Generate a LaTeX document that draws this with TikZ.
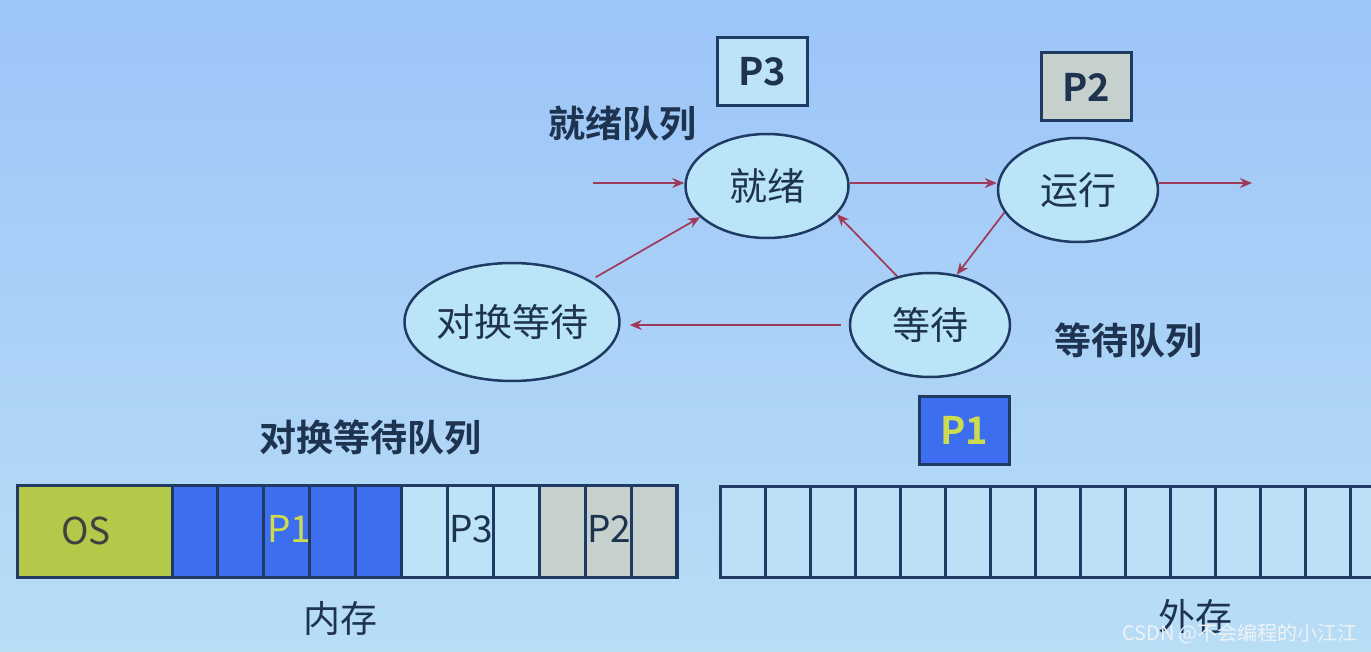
\documentclass[tikz,border=0pt]{standalone}
\usepackage{fontspec}
\setmainfont{Noto Sans CJK SC}[BoldFont={Noto Sans CJK SC Bold}]
\usepackage{xcolor}
\definecolor{cBgTop}{HTML}{9CC5F8}
\definecolor{cBgBot}{HTML}{B8DEF6}
\definecolor{cLine}{HTML}{1F3A63}
\definecolor{cText}{HTML}{1E3350}
\definecolor{cState}{HTML}{BAE4F8}
\definecolor{cArrow}{HTML}{A03A5A}
\definecolor{cOS}{HTML}{B4C84A}
\definecolor{cP1}{HTML}{3D6EF0}
\definecolor{cP1Text}{HTML}{CDDB50}
\definecolor{cP3}{HTML}{BDE3F9}
\definecolor{cP2}{HTML}{C6D0CD}
\definecolor{cDisk}{HTML}{BCDFF8}
\definecolor{cMark}{HTML}{EEF2F5}
\usepackage{tikz}
\usetikzlibrary{positioning,arrows.meta,shapes.geometric}
\tikzset{
  node-state/.style={ellipse,draw=cLine,line width=2.5pt,fill=cState,
    text=cText,inner sep=0pt,font=\fontsize{38}{40}\selectfont},
  node-tag/.style={draw=cLine,line width=3pt,minimum width=90pt,
    minimum height=68pt,text=cText,font=\fontsize{38}{40}\selectfont\bfseries},
  node-label/.style={text=cText,font=\fontsize{37}{40}\selectfont\bfseries},
  node-cell/.style={text=cText,font=\fontsize{37}{40}\selectfont},
  arrow/.style={-{Stealth[length=12pt,width=10pt]},line width=1.7pt,draw=cArrow},
  cell/.style={draw=cLine,line width=3pt},
}

\begin{document}
\begin{tikzpicture}[x=1pt,y=-1pt]
  \useasboundingbox (0,0) rectangle (1371,652);
  \clip (0,0) rectangle (1371,652);
  \shade[top color=cBgTop,bottom color=cBgBot] (0,0) rectangle (1371,652);

  % states
  \node[node-state,minimum width=163pt,minimum height=104pt] (ready) at (767,186) {就绪};
  \node[node-state,minimum width=160pt,minimum height=104pt] (run)   at (1078,190) {运行};
  \node[node-state,minimum width=160pt,minimum height=104pt] (wait)  at (930,325) {等待};
  \node[node-state,minimum width=202pt,minimum height=118pt] (swap)  at (512,322) {对换等待};

  \node[node-tag,fill=cP3] (tagP3) at (762,72) {P3};
  \node[node-tag,fill=cP2] (tagP2) at (1086,87) {P2};
  \node[node-tag,fill=cP1,text=cP1Text] (tagP1) at (964,430) {P1};

  \node[node-label] (readyq) at (622,124) {就绪队列};
  \node[node-label] (waitq)  at (1128,340) {等待队列};
  \node[node-label] (swapq)  at (370,437) {对换等待队列};

  \coordinate (in)  at (593,183);
  \coordinate (out) at (1252,183);
  \draw[arrow] (in) -- (in -| ready.west);
  \draw[arrow] (ready.east |- in) -- (in -| run.west);
  \draw[arrow] (out -| run.east) -- (out);
  \draw[arrow] (run.197) -- (wait.62);
  \draw[arrow] (wait.124) -- (ready.338);
  \draw[arrow,shorten <=8pt,shorten >=9pt] (wait.west) -- (wait.west -| swap.east);
  \draw[arrow,shorten <=6pt] (swap.28) -- (ready.205);

  % memory
  \fill[cOS] (17,485) rectangle (172,577);
  \foreach \i/\col in {0/cP1,1/cP1,2/cP1,3/cP1,4/cP1,5/cP3,6/cP3,7/cP3,8/cP2,9/cP2,10/cP2}
    \draw[cell,fill=\col] ({172+\i*45.9},485) rectangle ++(45.9,92);
  \draw[cell] (17,485) rectangle (677,577);
  \node[node-cell,text=black!75] (memOS) at (86,531) {OS};
  \node[node-cell,text=cP1Text]  (memP1) at (289,529) {P1};
  \node[node-cell] (memP3) at (471,529) {P3};
  \node[node-cell] (memP2) at (609,529) {P2};
  \node[node-cell] (mem) at (340,618) {内存};

  % disk
  \foreach \i in {0,...,14}
    \draw[cell,fill=cDisk] ({720+\i*45},486) rectangle ++(45,91);
  \node[node-cell] (disk) at (1195,616) {外存};

  \node[text=cMark,font=\fontsize{20}{22}\selectfont] (mark) at (1240,634) {CSDN @不会编程的小江江};
\end{tikzpicture}
\end{document}
